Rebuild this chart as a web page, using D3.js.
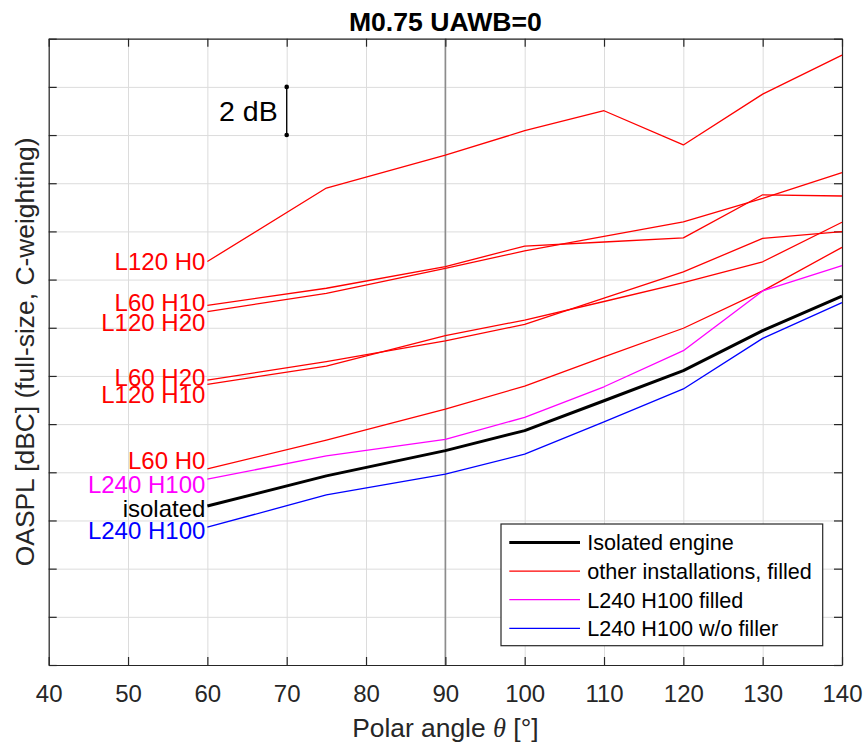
<!DOCTYPE html>
<html>
<head>
<meta charset="utf-8">
<script src="https://cdn.jsdelivr.net/npm/d3@7"></script>
<style>
  html, body { margin: 0; padding: 0; background: #fff; }
  svg { display: block; font-family: "Liberation Sans", Arial, Helvetica, sans-serif; }
</style>
</head>
<body>
<svg id="chart" width="863" height="744"></svg>
<script>
// ---------------- data (dB, relative to bottom of axis) ----------------
const angles = [60, 75, 90, 100, 110, 120, 130, 140];

const seriesNames = ["L120 H0", "L60 H10", "L120 H20", "L60 H20", "L120 H10", "L60 H0", "L240 H100 filled", "L240 H100 w/o filler", "isolated"];

const L120H0  = [16.75, 19.80, 21.17, 22.18, 23.01, 21.59, 23.70, 25.32];
const L60H10  = [14.93, 15.64, 16.54, 17.39, 17.56, 17.73, 19.52, 19.47];
const L120H20 = [14.67, 15.43, 16.47, 17.19, 17.79, 18.40, 19.37, 20.44];
const L60H20  = [11.83, 12.59, 13.46, 14.14, 15.23, 16.32, 17.71, 17.99];
const L120H10 = [11.65, 12.41, 13.67, 14.32, 15.09, 15.87, 16.74, 18.38];
const L60H0   = [ 8.14,  9.34, 10.62, 11.58, 12.79, 13.98, 15.53, 17.34];
const L240H100filled = [7.72, 8.68, 9.37, 10.28, 11.55, 13.05, 15.53, 16.58];
const L240H100open   = [5.72, 7.06, 7.92, 8.75, 10.09, 11.46, 13.56, 15.04];
const isolated       = [6.60, 7.85, 8.90, 9.73, 10.97, 12.22, 13.88, 15.31];

const xTicks = [40, 50, 60, 70, 80, 90, 100, 110, 120, 130, 140];
const yTicks = [0, 2, 4, 6, 8, 10, 12, 14, 16, 18, 20, 22, 24, 26];

const curveLabels = ["L120 H0", "L60 H10", "L120 H20", "L60 H20", "L120 H10", "L60 H0", "L240 H100", "isolated", "L240 H100"];
const legendLabels = ["Isolated engine", "other installations, filled", "L240 H100 filled", "L240 H100 w/o filler"];
const titleText = "M0.75 UAWB=0";
const scaleBarDb = [22, 24];   // 2 dB reference bar
const scaleBarAngle = 70;
const refAngle = 90;

// ---------------- layout ----------------
const RED = "#ff0000", MAG = "#ff00ff", BLUE = "#0000ff", BLACK = "#000000", AX = "#262626";
const pL = 48.7, pR = 842, pT = 38.7, pB = 665;
const W = pR - pL, H = pB - pT;

const svg = d3.select("#chart");
const x = d3.scaleLinear().domain([40, 140]).range([pL, pR]);
const y = d3.scaleLinear().domain([0, 26]).range([pB, pT]);

// grid
svg.append("g").attr("transform", `translate(0,${pB})`)
  .call(d3.axisBottom(x).tickValues(xTicks).tickSize(-H).tickFormat(""))
  .call(g => g.select(".domain").remove())
  .call(g => g.selectAll("line").attr("stroke", "#dcdcdc").attr("stroke-width", 1));
svg.append("g").attr("transform", `translate(${pL},0)`)
  .call(d3.axisLeft(y).tickValues(yTicks).tickSize(-W).tickFormat(""))
  .call(g => g.select(".domain").remove())
  .call(g => g.selectAll("line").attr("stroke", "#dcdcdc").attr("stroke-width", 1));

// reference vertical line at 90 deg
svg.append("line")
  .attr("x1", x(refAngle)).attr("x2", x(refAngle))
  .attr("y1", pT).attr("y2", pB)
  .attr("stroke", "#8c8c8c").attr("stroke-width", 1.6);

// axes with inward ticks on all sides
const tickLen = 8;
const axB = svg.append("g").attr("transform", `translate(0,${pB})`)
  .call(d3.axisBottom(x).tickValues(xTicks).tickSizeInner(-tickLen).tickSizeOuter(0).tickPadding(20).tickFormat(d3.format("d")));
const axT = svg.append("g").attr("transform", `translate(0,${pT})`)
  .call(d3.axisTop(x).tickValues(xTicks).tickSizeInner(-tickLen).tickSizeOuter(0).tickFormat(""));
const axL = svg.append("g").attr("transform", `translate(${pL},0)`)
  .call(d3.axisLeft(y).tickValues(yTicks).tickSizeInner(-tickLen).tickSizeOuter(0).tickFormat(""));
const axR = svg.append("g").attr("transform", `translate(${pR},0)`)
  .call(d3.axisRight(y).tickValues(yTicks).tickSizeInner(-tickLen).tickSizeOuter(0).tickFormat(""));
[axB, axT, axL, axR].forEach(a => {
  a.select(".domain").attr("stroke", AX).attr("stroke-width", 1.2);
  a.selectAll(".tick line").attr("stroke", AX).attr("stroke-width", 1.2);
  a.selectAll("text").attr("fill", AX).style("font-size", "24px")
   .style("font-family", '"Liberation Sans", Arial, sans-serif');
});

// lines
const line = d3.line().x((d, i) => x(angles[i])).y(d => y(d));
const series = [
  { v: L120H0, c: RED, w: 1.3 },
  { v: L60H10, c: RED, w: 1.3 },
  { v: L120H20, c: RED, w: 1.3 },
  { v: L60H20, c: RED, w: 1.3 },
  { v: L120H10, c: RED, w: 1.3 },
  { v: L60H0, c: RED, w: 1.3 },
  { v: L240H100filled, c: MAG, w: 1.3 },
  { v: L240H100open, c: BLUE, w: 1.3 },
  { v: isolated, c: BLACK, w: 3 }
];
svg.append("g").selectAll("path").data(series).join("path")
  .attr("d", d => line(d.v))
  .attr("fill", "none")
  .attr("stroke", d => d.c)
  .attr("stroke-width", d => d.w)
  .attr("stroke-linejoin", "round");

// curve labels (text at start of each line)
const labelDefs = [
  { t: curveLabels[0], v: L120H0[0], c: RED, dy: 0 },
  { t: curveLabels[1], v: L60H10[0], c: RED, dy: -3 },
  { t: curveLabels[2], v: L120H20[0], c: RED, dy: 11 },
  { t: curveLabels[3], v: L60H20[0], c: RED, dy: -3 },
  { t: curveLabels[4], v: L120H10[0], c: RED, dy: 10 },
  { t: curveLabels[5], v: L60H0[0], c: RED, dy: -9 },
  { t: curveLabels[6], v: L240H100filled[0], c: MAG, dy: 5 },
  { t: curveLabels[7], v: isolated[0], c: BLACK, dy: 2 },
  { t: curveLabels[8], v: L240H100open[0], c: BLUE, dy: 3 }
];
svg.append("g").selectAll("text").data(labelDefs).join("text")
  .attr("x", x(angles[0]) - 2)
  .attr("y", d => y(d.v) + d.dy + 8.6)
  .attr("text-anchor", "end")
  .attr("fill", d => d.c)
  .style("font-size", "24px")
  .text(d => d.t);

// 2 dB scale bar
const sb = svg.append("g");
sb.append("line")
  .attr("x1", x(scaleBarAngle)).attr("x2", x(scaleBarAngle))
  .attr("y1", y(scaleBarDb[0])).attr("y2", y(scaleBarDb[1]))
  .attr("stroke", BLACK).attr("stroke-width", 1.3);
sb.selectAll("circle").data(scaleBarDb).join("circle")
  .attr("cx", x(scaleBarAngle)).attr("cy", d => y(d)).attr("r", 2.3).attr("fill", BLACK);
sb.append("text")
  .attr("x", x(scaleBarAngle) - 9)
  .attr("y", (y(scaleBarDb[0]) + y(scaleBarDb[1])) / 2 + 10.5)
  .attr("text-anchor", "end")
  .style("font-size", "28.5px")
  .attr("fill", BLACK)
  .text((scaleBarDb[1] - scaleBarDb[0]) + " dB");

// title
svg.append("text")
  .attr("x", (pL + pR) / 2).attr("y", 30.5)
  .attr("text-anchor", "middle")
  .style("font-size", "26.6px").style("font-weight", "bold")
  .attr("fill", BLACK)
  .text(titleText);

// x label
const xl = svg.append("text")
  .attr("x", (pL + pR) / 2).attr("y", 736.5)
  .attr("text-anchor", "middle")
  .style("font-size", "26.4px")
  .attr("fill", AX);
xl.append("tspan").text("Polar angle ");
xl.append("tspan").style("font-family", '"Liberation Serif", "Times New Roman", serif').style("font-style", "italic").text("θ");
xl.append("tspan").text(" [°]");

// y label
svg.append("text")
  .attr("transform", `translate(34,${(pT + pB) / 2}) rotate(-90)`)
  .attr("text-anchor", "middle")
  .style("font-size", "26.4px")
  .attr("fill", AX)
  .text("OASPL [dBC] (full-size, C-weighting)");

// legend
const lg = svg.append("g");
lg.append("rect")
  .attr("x", 501).attr("y", 524).attr("width", 321.7).attr("height", 121.7)
  .attr("fill", "#fff").attr("stroke", AX).attr("stroke-width", 1.2);
const legendItems = [
  { t: legendLabels[0], c: BLACK, w: 3 },
  { t: legendLabels[1], c: RED, w: 1.3 },
  { t: legendLabels[2], c: MAG, w: 1.3 },
  { t: legendLabels[3], c: BLUE, w: 1.3 }
];
const rows = lg.selectAll("g").data(legendItems).join("g")
  .attr("transform", (d, i) => `translate(0,${542.5 + i * 28.6})`);
rows.append("line").attr("x1", 509.3).attr("x2", 580).attr("y1", 0).attr("y2", 0)
  .attr("stroke", d => d.c).attr("stroke-width", d => d.w);
rows.append("text").attr("x", 587.3).attr("y", 7.8)
  .style("font-size", "21.6px").attr("fill", BLACK)
  .text(d => d.t);
</script>
</body>
</html>
